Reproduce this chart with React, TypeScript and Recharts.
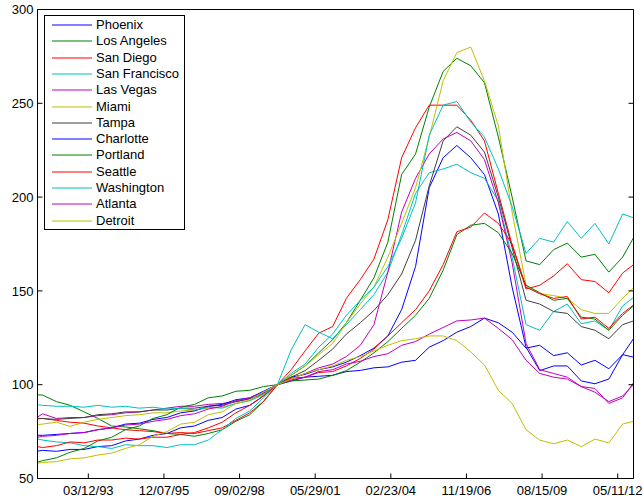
import React from "react";
import { LineChart, Line, XAxis, YAxis, Legend } from "recharts";

// Sample dates (half-yearly) for the home price indices, Jan 2000 = 100
const DATES = [
  "1991-05-10", "1991-07-15",
  "1992-01-15", "1992-07-15",
  "1993-01-15", "1993-07-15",
  "1994-01-15", "1994-07-15",
  "1995-01-15", "1995-07-15",
  "1996-01-15", "1996-07-15",
  "1997-01-15", "1997-07-15",
  "1998-01-15", "1998-07-15",
  "1999-01-15", "1999-07-15",
  "2000-01-15", "2000-07-15",
  "2001-01-15", "2001-07-15",
  "2002-01-15", "2002-07-15",
  "2003-01-15", "2003-07-15",
  "2004-01-15", "2004-07-15",
  "2005-01-15", "2005-07-15",
  "2006-01-15", "2006-07-15",
  "2007-01-15", "2007-07-15",
  "2008-01-15", "2008-07-15",
  "2009-01-15", "2009-07-15",
  "2010-01-15", "2010-07-15",
  "2011-01-15", "2011-07-15",
  "2012-01-15", "2012-07-15",
  "2012-12-06",
];

const PHOENIX = [
  64.6, 65, 64.5, 65.5, 65.5, 67, 67.5, 70, 71, 73, 74, 77, 78, 81, 82.5, 87, 89, 94, 100,
  104, 105.5, 108, 109.5, 112, 115.5, 119.5, 126, 140, 163, 205, 221, 227.5, 221, 212, 191,
  152, 120, 107.5, 110, 110, 102, 100.5, 103, 116, 124.5,
];
const LOS_ANGELES = [
  94.6, 94.5, 91, 89, 85.5, 82, 78, 77.5, 76.5, 75.5, 74, 73.5, 72.5, 74, 76, 80.5, 84, 91, 100,
  105, 110, 117, 124, 133, 145, 157, 176, 212, 223, 248, 267, 274, 270, 261, 232,
  200, 166, 164, 172, 175.5, 168, 169.5, 160, 168, 178.3,
];
const SAN_DIEGO = [
  82, 82, 81, 80, 79.5, 78, 77, 76, 75.5, 75, 74, 74.5, 74, 75.5, 77, 81, 85, 91, 100,
  108, 118, 127.5, 131, 146, 156, 167, 188, 221, 237, 249, 249, 249, 241, 230, 202,
  174.5, 151, 153, 158, 164.5, 156, 155, 149, 159.5, 164,
];
const SAN_FRANCISCO = [
  71.1, 70.5, 69.5, 69, 67.5, 67, 66, 68, 67.5, 67.5, 66.5, 68, 68, 70.5, 76, 82, 86, 93, 100,
  118.5, 132, 128, 124.5, 132, 140, 148, 160, 180, 202, 213, 215, 217.5, 213, 210, 198,
  168, 132, 129, 139, 143, 132.5, 134, 129, 142, 146.5,
];
const LAS_VEGAS = [
  82.7, 84.5, 82, 82.5, 82.5, 83.5, 84, 85, 85.5, 86.5, 87.5, 88.5, 88.5, 89.5, 90, 91, 92.5, 95, 100,
  103, 106, 109, 111, 115, 121, 132, 160, 192, 210, 223, 231, 234.5, 230, 220, 197,
  165, 122, 108, 106, 104, 99, 98, 90, 93, 101,
];
const MIAMI = [
  78.8, 79, 80, 77.8, 80, 81.5, 82.5, 83.5, 84, 85, 85, 86, 86.5, 87.5, 88, 90, 91.5, 94.5, 100,
  105, 110, 116, 122, 133, 143, 152, 168, 186, 205, 232, 262, 277, 280, 262, 238,
  192, 153, 148.5, 147.5, 146, 140, 138, 138, 146, 151.6,
];
const TAMPA = [
  81.8, 82, 81.5, 82, 82.5, 84, 84.5, 85.5, 85.5, 86.5, 86.5, 87.5, 87.5, 88.5, 89, 91, 92.5, 95.5, 100,
  104, 107.5, 113, 119, 127, 133, 139.6, 148, 159, 177, 206, 230, 237.5, 233, 224, 200,
  173, 145, 143, 139, 138, 131, 129, 124.5, 132, 134,
];
const CHARLOTTE = [
  73.1, 73, 73.5, 74, 74.5, 76, 77, 79, 79.5, 81.5, 82.5, 85, 86, 88.5, 89.5, 92, 93, 96.5, 100,
  102, 104, 104.5, 105, 107, 107.6, 109, 109.5, 112, 113, 120, 123.5, 128, 131, 135.5, 133,
  128, 119.5, 121, 115.5, 117, 110.5, 113, 108.5, 116, 114.7,
];
const PORTLAND = [
  58.7, 59.5, 61, 64, 66, 70, 72, 76, 78, 82, 84, 88, 89.5, 93, 94, 96.5, 97, 99, 100,
  102, 102.5, 103, 105, 107.5, 112, 117, 123, 130, 137, 146, 161, 180, 185, 186, 181,
  170, 153, 149, 145, 146, 136, 135, 129, 137, 142,
];
const SEATTLE = [
  67, 66.5, 67.5, 69.5, 69, 70.5, 70.5, 71.5, 71, 72, 72, 73.5, 74.5, 77, 80, 85, 89, 94, 100,
  103.5, 104, 106.5, 107, 110, 114, 119, 126, 133, 140, 150, 164, 181.5, 184, 191.5, 186,
  175, 152, 148.5, 146, 147, 135, 136, 130, 138, 142.5,
];
const WASHINGTON = [
  89.3, 89, 88.5, 88.5, 88, 89, 88, 88.5, 87.5, 88, 87, 87.5, 86.5, 88, 87.5, 90, 91.5, 95, 100,
  106, 111, 120, 127, 137, 145, 152, 163, 178, 197, 233, 249, 251, 240, 232, 215,
  195, 170, 178, 176, 187, 178, 186, 175, 191, 189,
];
const ATLANTA = [
  72, 72.5, 73, 74, 74.5, 76, 77, 78.5, 79, 80.5, 81.5, 83.5, 84.5, 87, 88.5, 91.5, 93, 96, 100,
  102.5, 104, 107, 108, 111, 112.5, 115, 116.5, 121, 123, 127, 130.5, 134, 134.5, 135.5, 130,
  124, 113, 106, 104, 103, 99, 96, 91, 94, 100,
];
const DETROIT = [
  58.2, 58.5, 59, 60.5, 61, 62.5, 63.5, 66, 68, 72.5, 75, 79, 80, 84, 85.5, 90, 92, 96, 100,
  103, 106, 108, 110, 113, 115, 118, 121, 123.5, 124.5, 126, 126, 123.5, 117.5, 110.5, 97,
  90, 76, 70.5, 68.5, 70.5, 67, 71, 69, 79, 80.5,
];

// x axis runs on day numbers (day 1 = 01-Jan-0000), ticks every 1000 days
const X_DOMAIN = [727328, 735209];
const X_TICKS = [728000, 729000, 730000, 731000, 732000, 733000, 734000, 735000];
const X_TICK_LABELS = ["03/12/93", "12/07/95", "09/02/98", "05/29/01", "02/23/04", "11/19/06", "08/15/09", "05/11/12"];
const Y_TICKS = [50, 100, 150, 200, 250, 300];

const SERIES = [
  { key: "phoenix", name: "Phoenix", color: "#0000ff", values: PHOENIX },
  { key: "losAngeles", name: "Los Angeles", color: "#008000", values: LOS_ANGELES },
  { key: "sanDiego", name: "San Diego", color: "#ff0000", values: SAN_DIEGO },
  { key: "sanFrancisco", name: "San Francisco", color: "#00bfbf", values: SAN_FRANCISCO },
  { key: "lasVegas", name: "Las Vegas", color: "#bf00bf", values: LAS_VEGAS },
  { key: "miami", name: "Miami", color: "#bfbf00", values: MIAMI },
  { key: "tampa", name: "Tampa", color: "#404040", values: TAMPA },
  { key: "charlotte", name: "Charlotte", color: "#0000ff", values: CHARLOTTE },
  { key: "portland", name: "Portland", color: "#008000", values: PORTLAND },
  { key: "seattle", name: "Seattle", color: "#ff0000", values: SEATTLE },
  { key: "washington", name: "Washington", color: "#00bfbf", values: WASHINGTON },
  { key: "atlanta", name: "Atlanta", color: "#bf00bf", values: ATLANTA },
  { key: "detroit", name: "Detroit", color: "#bfbf00", values: DETROIT },
];

const FONT = "'Liberation Sans', Arial, Helvetica, sans-serif";
const LEGEND_ROW = 16.3;

function toDayNumber(iso: string) {
  const [y, m, d] = iso.split("-").map(Number);
  return Date.UTC(y, m - 1, d) / 86400000 + 719529;
}

const rows = DATES.map((date, i) => {
  const row: Record<string, number> = { x: toDayNumber(date) };
  SERIES.forEach((s) => {
    row[s.key] = s.values[i];
  });
  return row;
});

const noLabel = () => <g />;

// boxed legend in the upper-left corner of the axes
function CityLegend() {
  return (
    <div
      style={{
        position: "relative",
        width: 141,
        height: 215,
        boxSizing: "border-box",
        border: "1px solid #000",
        background: "#fff",
        fontFamily: FONT,
        fontSize: 13,
        color: "#000",
      }}
    >
      {SERIES.map((s, i) => {
        const mid = Math.round(10 + i * LEGEND_ROW);
        return (
          <React.Fragment key={s.key}>
            <svg
              width={41}
              height={3}
              style={{ position: "absolute", left: 7, top: mid - 2, overflow: "visible" }}
            >
              <line x1={0} x2={40} y1={1} y2={1} stroke={s.color} strokeWidth={1.2} />
            </svg>
            <div
              style={{
                position: "absolute",
                left: 51,
                top: mid - 9,
                height: 16,
                lineHeight: "16px",
                whiteSpace: "nowrap",
              }}
            >
              {s.name}
            </div>
          </React.Fragment>
        );
      })}
    </div>
  );
}

export default function App() {
  return (
    <div style={{ position: "absolute", left: 0, top: 0, width: 643, height: 500, background: "#fff" }}>
      <LineChart
        width={643}
        height={500}
        data={rows}
        margin={{ top: 8.5, right: 8.5, bottom: 20.5, left: 36.5 }}
        style={{ fontFamily: FONT }}
      >
        <XAxis
          dataKey="x"
          type="number"
          domain={X_DOMAIN}
          allowDataOverflow
          ticks={X_TICKS}
          interval={0}
          tickFormatter={(v: number) => X_TICK_LABELS[X_TICKS.indexOf(v)] ?? ""}
          height={1}
          tickSize={-5}
          tickMargin={12.5}
          stroke="#000"
          tick={{ fill: "#000", fontSize: 13 }}
        />
        <XAxis
          xAxisId="top"
          orientation="top"
          type="number"
          domain={X_DOMAIN}
          allowDataOverflow
          ticks={X_TICKS}
          interval={0}
          height={1}
          tickSize={-5}
          stroke="#000"
          tick={noLabel}
        />
        <YAxis
          type="number"
          domain={[50, 300]}
          allowDataOverflow
          ticks={Y_TICKS}
          interval={0}
          width={1}
          tickSize={-5}
          tickMargin={9}
          stroke="#000"
          tick={{ fill: "#000", fontSize: 13 }}
        />
        <YAxis
          yAxisId="right"
          orientation="right"
          type="number"
          domain={[50, 300]}
          allowDataOverflow
          ticks={Y_TICKS}
          interval={0}
          width={1}
          tickSize={-5}
          stroke="#000"
          tick={noLabel}
        />
        {SERIES.map((s) => (
          <Line
            key={s.key}
            type="linear"
            dataKey={s.key}
            name={s.name}
            stroke={s.color}
            strokeWidth={1}
            dot={false}
            activeDot={false}
            isAnimationActive={false}
          />
        ))}
        <Legend
          layout="horizontal"
          verticalAlign="middle"
          align="center"
          wrapperStyle={{ left: 44, top: 15, width: 141, height: 215 }}
          content={() => <CityLegend />}
        />
      </LineChart>
    </div>
  );
}
